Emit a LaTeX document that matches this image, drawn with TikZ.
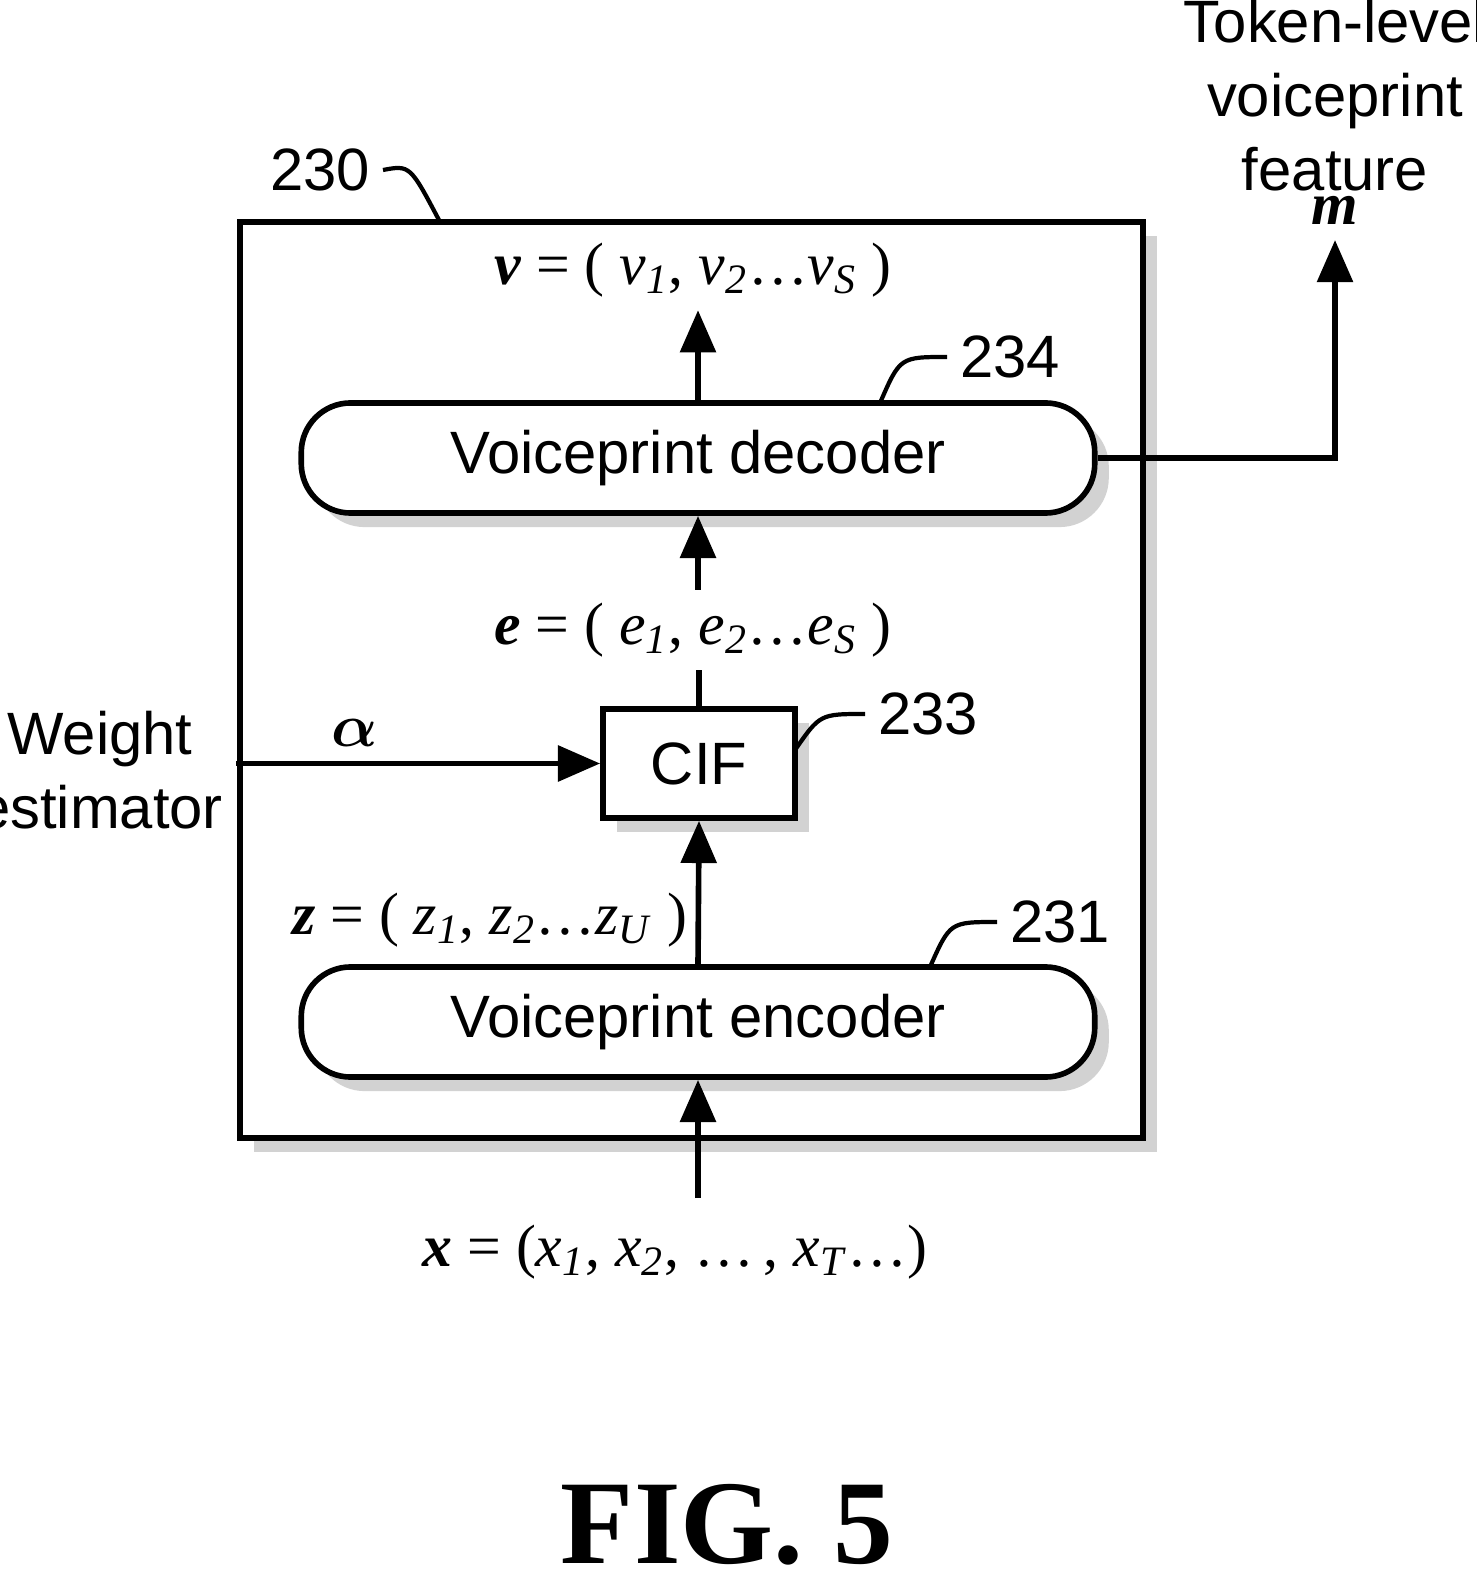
\documentclass[tikz,border=0pt]{standalone}
\usepackage{amsmath}
\usepackage{fontspec}
\setmainfont{Liberation Sans}
\newfontfamily\tms{Liberation Serif}
\usetikzlibrary{shadows,arrows.meta}
\newcommand{\sub}[1]{\textsubscript{\textit{#1}}}
\newcommand{\seqlabel}[3]{{\tms\textbf{\textit{#1}} = ( \textit{#1}\sub{1}, \textit{#1}\sub{2}\ldots\textit{#1}\sub{#2}#3)}}

\begin{document}
\begin{tikzpicture}[x=0.01cm,y=-0.01cm,thick,
     font=\fontsize{17}{21}\selectfont,
     box/.style={draw,line width=1.6pt,fill=white,drop shadow={shadow xshift=4pt,shadow yshift=-4pt,fill=gray!70}},
     block/.style={box,rounded corners=14pt,minimum width=7.93cm,minimum height=1.1cm},
     arr/.style={-{Triangle[length=12pt,width=10pt]},line width=1.6pt},
     lead/.style={line width=1.2pt}]
    \useasboundingbox (0,0) rectangle (1477,1589);

    \node[box,minimum width=9.03cm,minimum height=9.16cm] (outer) at (691.5,680) {};
    \node[block] (dec) at (698,458) {Voiceprint decoder};
    \node[block] (enc) at (698,1022) {Voiceprint encoder};
    \node[box,minimum width=1.92cm,minimum height=1.09cm] (cif) at (699,763.5) {CIF};

    \node (v) at (693,270) {\seqlabel{v}{S}{ }};
    \node (e) at (693,630) {\seqlabel{e}{S}{ }};
    \node (z) at (490,920) {\seqlabel{z}{U}{ }};
    \node (x) at (675,1252) {{\tms\textbf{\textit{x}} = (\textit{x}\sub{1}, \textit{x}\sub{2}, \ldots\,, \textit{x}\sub{T}\ldots)}};
    \node[align=center] (we) at (100,770) {Weight\\estimator};
    \node (alpha) at (355,733) {$\boldsymbol{\alpha}$};
    \node[align=center] (tok) at (1335,95) {Token-level\\voiceprint\\feature};
    \node (m) at (1335,210) {{\tms\textbf{\textit{m}}}};
    \node[font=\tms\bfseries\fontsize{34}{40}\selectfont] (fig) at (727,1525) {FIG. 5};

    \node (l230) at (320,170) {230};
    \node (l234) at (1010,357) {234};
    \node (l233) at (928,714) {233};
    \node (l231) at (1060,922) {231};
    \coordinate (xin) at (698,1198);
    \coordinate (mup) at (1335,240);

    \draw[arr] (dec.north) -- (v.south -| dec.north);
    \draw[arr] (e.north -| dec.south) -- (dec.south);
    \draw[line width=1.6pt] (cif.north) -- (e.south -| cif.north);
    \draw[arr] (enc.north) -- (cif.south);
    \draw[arr] (xin) -- (enc.south);
    \draw[arr] (we.east |- cif.west) -- (cif.west);
    \draw[arr] (dec.east) -| (mup);

    \draw[lead] (l230.east) .. controls (410,165) .. (440,222);
    \draw[lead] (l234.west) .. controls (900,357) .. (880,403);
    \draw[lead] (l233.west) .. controls (820,714) .. (795,750);
    \draw[lead] (l231.west) .. controls (950,922) .. (930,967);
\end{tikzpicture}
\end{document}
